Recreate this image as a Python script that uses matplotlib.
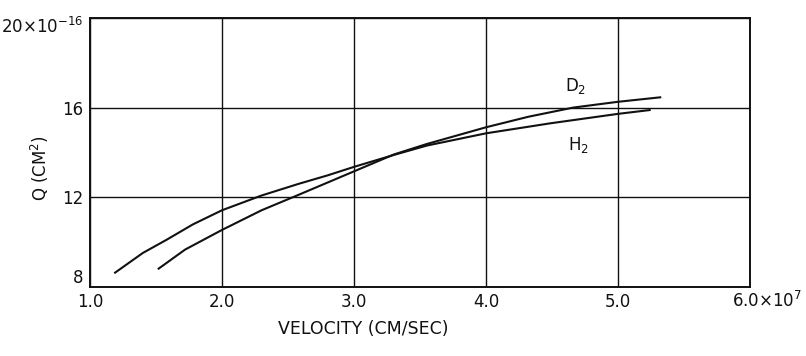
import matplotlib.pyplot as plt
from matplotlib.transforms import ScaledTranslation

# cross section Q vs. velocity (velocity in 1e7 cm/s, Q in 1e-16 cm^2)
h2_velocity = [1.19, 1.40, 1.58, 1.78, 2.00, 2.30, 2.58, 2.80, 3.00, 3.30, 3.55,
               4.00, 4.49, 5.00, 5.24]
h2_q = [8.62, 9.50, 10.09, 10.78, 11.41, 12.07, 12.59, 12.97, 13.35, 13.88, 14.30,
        14.85, 15.30, 15.72, 15.89]

d2_velocity = [1.52, 1.72, 2.00, 2.30, 2.58, 2.80, 3.00, 3.30, 3.55, 4.00, 4.32,
               4.66, 5.00, 5.32]
d2_q = [8.80, 9.65, 10.53, 11.41, 12.10, 12.65, 13.15, 13.90, 14.37, 15.12, 15.59,
        16.00, 16.26, 16.46]

x_ticks = [1.0, 2.0, 3.0, 4.0, 5.0, 6.0]
x_tick_labels = ['1.0', '2.0', '3.0', '4.0', '5.0', '']
x_end_label = '6.0×10$^{7}$'
y_ticks = [8, 12, 16, 20]
y_tick_labels = ['8', '12', '16', '20×10$^{-16}$']

plt.rcParams['font.family'] = ['DejaVu Sans']
plt.rcParams['mathtext.fontset'] = 'dejavusans'

ink = '#111111'
fs = 12

fig = plt.figure(figsize=(8.06, 3.56), dpi=100)
ax = fig.add_axes([0.1117, 0.1952, 0.8188, 0.7538])

ax.plot(h2_velocity, h2_q, color=ink, lw=1.5, solid_joinstyle='round')
ax.plot(d2_velocity, d2_q, color=ink, lw=1.5, solid_joinstyle='round')

ax.set_xlim(1.0, 6.0)
ax.set_ylim(8, 20)
ax.set_xticks(x_ticks)
ax.set_xticklabels(x_tick_labels)
ax.set_yticks(y_ticks)
ax.set_yticklabels(y_tick_labels)
ax.tick_params(length=0, labelsize=fs, colors=ink, pad=5)

# bottom y label sits above the axis, top one a little below the frame
ylabels = ax.get_yticklabels()
ylabels[0].set_verticalalignment('bottom')
ylabels[-1].set_transform(ylabels[-1].get_transform()
                          + ScaledTranslation(0, -7 / 100, fig.dpi_scale_trans))

# label of the last x tick starts just left of the axis end
ax.annotate(x_end_label, xy=(6.0, 8), xycoords='data', xytext=(-13, -3.5),
            textcoords='offset points', ha='left', va='top', fontsize=fs, color=ink)

ax.grid(True, color=ink, lw=1.0)
for spine in ax.spines.values():
    spine.set_color(ink)
    spine.set_linewidth(1.4)

ax.text(4.68, 16.97, 'D$_2$', fontsize=fs, color=ink, ha='center', va='center')
ax.text(4.70, 14.35, 'H$_2$', fontsize=fs, color=ink, ha='center', va='center')

fig.text(40 / 806, 1 - 168 / 356, 'Q (CM$^2$)', rotation=90, fontsize=fs,
         color=ink, ha='center', va='center')
fig.text(363 / 806, 1 - 329 / 356, 'VELOCITY (CM/SEC)', fontsize=fs + 0.5,
         color=ink, ha='center', va='center')

fig.savefig('out.png', dpi=100)
